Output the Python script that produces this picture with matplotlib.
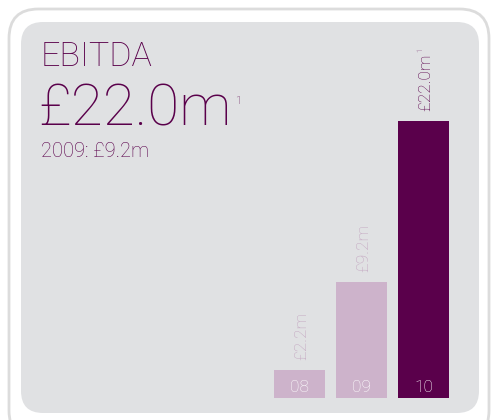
import matplotlib.pyplot as plt
from matplotlib.patches import FancyBboxPatch

years = ["08", "09", "10"]
ebitda = [2.2, 9.2, 22.0]
value_labels = ["£2.2m", "£9.2m", "£22.0m"]
footnotes = ["", "", "1"]

W, H = 491, 420
PURPLE = "#5a004b"
LIGHT = "#cdb3cb"
LABEL_LIGHT = "#c2a3bf"
PANEL = "#e0e1e3"

fig = plt.figure(figsize=(W / 100, H / 100), dpi=100)
fig.patch.set_facecolor("white")


def px(x, y):
    # pixel coords from top-left -> figure fraction
    return x / W, 1 - y / H


# outer white card with grey rim
outer = FancyBboxPatch((9 / W, -20 / H), 480 / W, (H - 9 + 20) / H,
                       boxstyle="round,pad=0,rounding_size=0.06",
                       transform=fig.transFigure, facecolor="white",
                       edgecolor="#dcdcdc", linewidth=2.0,
                       mutation_aspect=W / H, zorder=-2)
fig.patches.append(outer)

# inner grey panel
inner = FancyBboxPatch((21 / W, (H - 413) / H), 458 / W, (413 - 22) / H,
                       boxstyle="round,pad=0,rounding_size=0.045",
                       transform=fig.transFigure, facecolor=PANEL,
                       edgecolor="none", mutation_aspect=W / H, zorder=-1)
fig.patches.append(inner)

font = ["Roboto", "DejaVu Sans"]
wt = "light"

fig.text(*px(41, 66), "EBITDA", color=PURPLE, fontsize=24.5, family=font,
         weight=wt, va="baseline", ha="left")
headline = fig.text(*px(38, 125), "£22.0m", color=PURPLE, fontsize=42,
                    family=font, weight=wt, va="baseline", ha="left")
fig.text(*px(41, 157), "2009: £9.2m", color=PURPLE, fontsize=14.5,
         family=font, weight=wt, va="baseline", ha="left")

# footnote marker just right of the headline figure
fig.canvas.draw()
bb = headline.get_window_extent().transformed(fig.transFigure.inverted())
fig.text(bb.x1 + 4 / W, px(0, 104)[1], "1", color=PURPLE, fontsize=8,
         family=font, weight=wt, va="baseline", ha="left")

# bar chart area
ax_l, ax_r, ax_b, ax_t = 260, 470, 398, 30
ax = fig.add_axes([ax_l / W, (H - ax_b) / H, (ax_r - ax_l) / W,
                   (ax_b - ax_t) / H])
ax.set_facecolor("none")
ax.set_axis_off()

step = 62.0
ax.set_xlim((ax_l - 299.5) / step, (ax_r - 299.5) / step)
ax.set_ylim(0, (ax_b - ax_t) / 12.6)

colors = [LIGHT, LIGHT, PURPLE]
label_colors = [LABEL_LIGHT, LABEL_LIGHT, PURPLE]
xs = list(range(len(years)))
ax.bar(xs, ebitda, width=51 / step, color=colors, edgecolor="none")

for x, v, yr, lab, fn, lc in zip(xs, ebitda, years, value_labels,
                                 footnotes, label_colors):
    ax.text(x, 0.2, yr, color="white", fontsize=12.5, family=font,
            weight=wt, ha="center", va="bottom")
    ax.text(x + 0.03, v + 0.8, lab, color=lc, fontsize=12.5, family=font,
            weight=wt, rotation=90, ha="center", va="bottom")
    if fn:
        ax.text(x - 0.05, v + 5.45, fn, color=lc, fontsize=5.5, family=font,
                weight=wt, rotation=90, ha="center", va="bottom")

fig.savefig("out.png", dpi=100, facecolor="white")
